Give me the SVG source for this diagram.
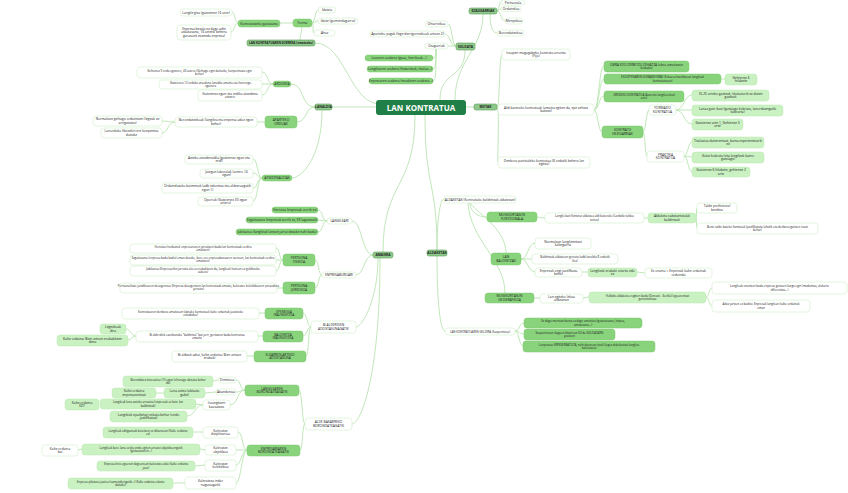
<svg xmlns="http://www.w3.org/2000/svg" width="848" height="493" viewBox="0 0 848 493">
<style>
text{font-family:"Open Sans","Liberation Sans",sans-serif;font-size:3.3px;fill:#222;text-anchor:middle}
.s text{font-size:2.9px}
.l rect{fill:#fff;stroke:#d2efcb;stroke-width:0.6}
.m rect{fill:#88d37b;stroke:#7cc86f;stroke-width:0.5}
.g rect{fill:#c9f1c1;stroke:#bfe9b6;stroke-width:0.5}
.b rect{fill:#8dc98a;stroke:#5f9d5c;stroke-width:0.6}
.b text{font-weight:bold}
#edges path{fill:none;stroke:#b9e4b1;stroke-width:0.9}
</style>
<rect width="848" height="493" fill="#fff"/>
<g id="edges">
<path d="M380 104 C350 104 345 43 315 43"/>
<path d="M376 107 L332 107"/>
<path d="M440 100 C440 70 465 80 465 50"/>
<path d="M455 100 C455 60 483 50 483 14"/>
<path d="M466 107 L474 107"/>
<path d="M415 115 C415 190 383 180 383 252"/>
<path d="M425 115 C425 190 437 180 437 250"/>
<path d="M300 40 C300 33 302 33 302 27"/>
<path d="M293 23 L280 23"/>
<path d="M312 23 C315 23 315 10 318 10"/><path d="M312 23 C315 23 315 21 318 21"/><path d="M312 23 C314 23 312 33 314 33"/>
<path d="M238 23 C235 23 235 12 232 12"/><path d="M238 23 C235 23 234 32 231 32"/>
<path d="M315 107 C300 107 305 84 291 84"/><path d="M315 107 C305 107 307 122 297 122"/><path d="M322 110 C322 160 300 178 292 178"/>
<path d="M273 84 C267 84 268 72 262 72"/><path d="M273 84 L262 84"/><path d="M273 84 C267 84 268 95 262 95"/>
<path d="M265 122 L257 122"/>
<path d="M175 122 C168 122 168 121 162 121"/><path d="M175 122 C168 122 168 133 162 133"/>
<path d="M262 178 C257 178 258 159 253 159"/><path d="M262 178 C257 178 258 173 253 173"/><path d="M262 178 C257 178 258 188 253 188"/><path d="M262 178 C257 178 258 201 253 201"/>
<path d="M456 46 C452 46 452 24 448 24"/><path d="M456 46 C450 46 450 34 445 34"/><path d="M456 46 L448 46"/>
<path d="M436 49 C436 55 436 58 433 58"/><path d="M436 49 C436 60 436 69 433 69"/><path d="M436 49 C436 70 436 81 433 81"/>
<path d="M497 11 C499 11 499 2 501 2"/><path d="M497 11 C499 11 499 9 501 9"/><path d="M497 11 C501 11 501 21 505 21"/><path d="M490 14 C490 25 492 33 497 33"/>
<path d="M497 107 C500 107 499 55 502 55"/><path d="M497 107 C498 107 497 110 498 110"/><path d="M497 107 C500 107 497 162 498 162"/>
<path d="M594 110 C599 110 599 66 604 66"/><path d="M594 110 C599 110 599 79 604 79"/><path d="M594 110 C599 110 599 96 604 96"/><path d="M594 110 C598 110 598 132 602 132"/>
<path d="M721 79 L725 79"/>
<path d="M643 132 C646 132 646 110 649 110"/><path d="M643 132 C645 132 645 156 647 156"/>
<path d="M676 110 C684 110 684 95 692 95"/><path d="M676 110 L692 110"/><path d="M676 110 C684 110 684 124 692 124"/>
<path d="M684 156 C688 156 688 142 692 142"/><path d="M684 156 L692 157"/><path d="M684 156 C688 156 688 172 692 172"/>
<path d="M373 255 C362 255 362 221 352 221"/><path d="M373 255 C364 255 364 275 356 275"/><path d="M378 258 C378 300 362 327 356 327"/><path d="M380 258 C380 380 360 424 352 424"/>
<path d="M327 221 C322 221 323 210 318 210"/><path d="M327 221 L318 220"/><path d="M327 221 C322 221 323 232 318 232"/>
<path d="M322 275 C318 275 319 260 315 260"/><path d="M322 275 C318 275 319 288 315 288"/>
<path d="M283 260 C279 260 280 248 276 248"/><path d="M283 260 L276 260"/><path d="M283 260 C279 260 280 271 276 271"/>
<path d="M283 288 L277 288"/>
<path d="M311 327 C307 327 307 313 303 313"/><path d="M311 327 C307 327 307 336 303 336"/><path d="M311 327 C308 327 309 356 306 356"/>
<path d="M265 313 L259 313"/><path d="M263 336 L258 336"/><path d="M254 356 L247 356"/>
<path d="M136 336 C131 336 131 329 126 329"/><path d="M136 336 C132 336 132 340 128 340"/>
<path d="M305 424 C302 424 302 390 299 390"/><path d="M305 424 C302 424 303 450 300 450"/>
<path d="M245 390 C240 390 241 380 236 380"/><path d="M245 390 C240 390 241 392 236 392"/><path d="M245 390 C237 390 238 405 230 405"/>
<path d="M218 380 L213 381"/><path d="M216 392 L205 393"/><path d="M164 393 L156 393"/>
<path d="M203 405 L196 404"/><path d="M203 405 C195 405 195 416 187 416"/>
<path d="M247 450 C242 450 243 432 238 432"/><path d="M247 450 L236 450"/><path d="M247 450 C242 450 241 465 236 465"/><path d="M247 450 C242 450 241 483 236 483"/>
<path d="M203 432 L193 432"/><path d="M205 450 L200 449"/><path d="M82 449 L78 450"/><path d="M205 465 L195 466"/><path d="M185 483 L173 483"/>
<path d="M437 250 C437 220 440 199 444 199"/><path d="M437 256 C437 300 440 331 445 331"/>
<path d="M470 203 C470 212 478 217 487 217"/><path d="M470 203 C480 215 506 230 506 253"/><path d="M468 203 C470 240 505 260 505 293"/>
<path d="M537 217 L545 218"/><path d="M644 218 L648 218"/><path d="M696 218 C697 218 696 208 697 208"/><path d="M696 218 C697 218 696 228 697 228"/>
<path d="M521 259 C528 259 528 243 535 243"/><path d="M521 259 L532 259"/><path d="M521 259 C528 259 528 272 535 272"/>
<path d="M582 272 L588 272"/><path d="M637 272 L645 273"/>
<path d="M534 298 L540 298"/><path d="M583 298 L589 297"/><path d="M706 297 C709 297 709 288 712 288"/><path d="M706 297 C709 297 709 306 712 306"/>
<path d="M515 331 C520 331 519 323 524 323"/><path d="M515 331 C520 331 519 334 524 334"/><path d="M515 331 C519 331 519 346 523 346"/>
</g>
<g id="central"><rect x="376" y="100" width="90" height="15" rx="3" fill="#1f7f47"/><text x="421" y="110.5" style="font-size:8px;font-weight:bold;fill:#fff">LAN KONTRATUA</text></g>
<g id="sorrera" class="b"><rect x="247" y="40" width="68" height="6" rx="2"/><text x="281" y="44" style="font-size:3px">LAN KONTRATUAREN SORRERA (ematzeko)</text></g>
<g id="kontratatzeko" class="m"><rect x="238" y="20" width="42" height="7" rx="3"/><text x="259" y="24.5">Kontratatzeko gaitasuna</text></g>
<g id="forma" class="m"><rect x="293" y="19" width="19" height="8" rx="3"/><text x="302.5" y="24.2">Forma</text></g>
<g id="idatzia" class="l"><rect x="318" y="7" width="18" height="6" rx="3"/><text x="327" y="11.2">Idatzia</text></g>
<g id="idatzi" class="l"><rect x="318" y="18" width="40" height="6" rx="3"/><text x="338" y="22.2">Idatzi (gomendagarria)</text></g>
<g id="ahoz" class="l"><rect x="314" y="30" width="21" height="6" rx="3"/><text x="324.5" y="34.2">Ahoz</text></g>
<g id="langilegisa" class="l"><rect x="180" y="9" width="52" height="7" rx="3"/><text x="206" y="13.5">Langile gisa (gutxienez 16 urte)</text></g>
<g id="enpresabezala" class="l"><rect x="177" y="25" width="54" height="15" rx="3"/><text x="204" y="29.5">Enpresa bezala ez dago adin<tspan x="204" dy="3.6">askatasuna, 18 urtetik behera</tspan><tspan x="204" dy="3.6">gurasoek eszenda enpresa)</tspan></text></g>
<g id="lanaldia" class="b"><rect x="315" y="104" width="17" height="6" rx="2"/><text x="323.5" y="108.2">LANALDIA</text></g>
<g id="ardunta" class="m"><rect x="273" y="81" width="18" height="6" rx="3"/><text x="282" y="85.2">ARDUNTA</text></g>
<g id="ard1" class="l s"><rect x="137" y="67" width="125" height="11" rx="3"/><text x="199.5" y="71.5">Gehienez 9 ordu egunero, 40 astero (Gehiago egin daitezke, konpentsatu egin<tspan x="199.5" dy="3.6">behar)</tspan></text></g>
<g id="ard2" class="l s"><rect x="159" y="80" width="103" height="9" rx="3"/><text x="210.5" y="83.8">Gutxienez 12 orduko atsedena lanaldia amaitu eta hurrengo<tspan x="210.5" dy="3.6">egunera</tspan></text></g>
<g id="ard3" class="l"><rect x="198" y="90" width="64" height="11" rx="3"/><text x="230" y="94.5">Gutxienez egun eta erdiko atsedena<tspan x="230" dy="3.6">astero</tspan></text></g>
<g id="aparteko" class="m"><rect x="265" y="116" width="32" height="12" rx="3"/><text x="281" y="121">APARTEKO<tspan x="281" dy="3.6">ORDUAK</tspan></text></g>
<g id="borondatezkoak" class="l"><rect x="175" y="117" width="82" height="10" rx="3"/><text x="216" y="121">Borondatezkoak (langilea eta enpresa adoz egon<tspan x="216" dy="3.6">behar)</tspan></text></g>
<g id="normalean" class="l"><rect x="93" y="116" width="69" height="10" rx="3"/><text x="127.5" y="120">Normalean gehiago ordaintzen (legeak ez<tspan x="127.5" dy="3.6">arrigutatzu)</tspan></text></g>
<g id="lanorduko" class="l"><rect x="101" y="128" width="61" height="10" rx="3"/><text x="131.5" y="132">Lanorduko libreekin ere konpentsa<tspan x="131.5" dy="3.6">daitake</tspan></text></g>
<g id="atseden" class="m"><rect x="262" y="175" width="30" height="6" rx="3"/><text x="277" y="179.2">ATSEDENALDIAK</text></g>
<g id="ats1" class="l"><rect x="185" y="155" width="68" height="9" rx="3"/><text x="219" y="158.8">Asteko atsedenaldia (gutxienez egun eta<tspan x="219" dy="3.6">erdi)</tspan></text></g>
<g id="ats2" class="l"><rect x="200" y="169" width="53" height="9" rx="3"/><text x="226.5" y="172.8">Jaiegun laboralak (urtero 14<tspan x="226.5" dy="3.6">egun)</tspan></text></g>
<g id="ats3" class="l"><rect x="162" y="183" width="91" height="10" rx="3"/><text x="207.5" y="187.2">Ordaindutako baimenak (adb ezkontza eta aldeeraagatik<tspan x="207.5" dy="3.6">egun 1)</tspan></text></g>
<g id="ats4" class="l"><rect x="198" y="197" width="55" height="9" rx="3"/><text x="225.5" y="200.8">Oporrak (Gutxienez 30 egun<tspan x="225.5" dy="3.6">urtero)</tspan></text></g>
<g id="soldata" class="b"><rect x="456" y="43" width="19" height="7" rx="2"/><text x="465.5" y="47.7">SOLDATA</text></g>
<g id="ohiarrizkoa" class="l"><rect x="425" y="21" width="23" height="6" rx="3"/><text x="436.5" y="25.2">Ohiarrizkoa</text></g>
<g id="apartekopagak" class="l"><rect x="370" y="31" width="75" height="6" rx="3"/><text x="407.5" y="35.2">Aparteko pagak (lege derrigorrezkoak urtean 2)</text></g>
<g id="osagarriak" class="l"><rect x="425" y="43" width="23" height="6" rx="3"/><text x="436.5" y="47.2">Osagarriak</text></g>
<g id="os1" class="m"><rect x="365" y="55" width="68" height="6" rx="3"/><text x="399" y="59.2">Lanaren arabera (gaua, herrikoak...)</text></g>
<g id="os2" class="m"><rect x="367" y="66" width="66" height="6" rx="3"/><text x="400" y="70.2">Langilearen arabera (hiztuntzak, titulua...)</text></g>
<g id="os3" class="m"><rect x="369" y="78" width="64" height="6" rx="3"/><text x="401" y="82.2">Enpresaren arabera (mozkinen arabera...)</text></g>
<g id="ezaugarriak" class="b"><rect x="469" y="8" width="28" height="6" rx="2"/><text x="483" y="12.2">EZAUGARRIAK</text></g>
<g id="pertsonala" class="l"><rect x="501" y="0" width="24" height="5" rx="2.5"/><text x="513" y="3.7">Pertsonala</text></g>
<g id="ordaindua" class="l"><rect x="501" y="6.5" width="20" height="5" rx="2.5"/><text x="511" y="10.2">Ordaindua</text></g>
<g id="menpekoa" class="l"><rect x="505" y="18" width="18" height="6" rx="3"/><text x="514" y="22.2">Menpekoa</text></g>
<g id="borondatezkoa" class="l"><rect x="497" y="30" width="27" height="6" rx="3"/><text x="510.5" y="34.2">Borondatezkoa</text></g>
<g id="motak" class="b"><rect x="474" y="104" width="23" height="6" rx="2"/><text x="485.5" y="108.2">MOTAK</text></g>
<g id="iraupen" class="l"><rect x="502" y="49" width="68" height="11" rx="3"/><text x="536" y="53.5">Iraupen mugagabeko kontratu arrunta<tspan x="536" dy="3.6">(Fijo)</tspan></text></g>
<g id="aldibaterako" class="l"><rect x="498" y="104" width="96" height="11" rx="3"/><text x="546" y="108.5">Aldi baterako kontratuak (amaitu egiten da, epe zehatz<tspan x="546" dy="3.6">batean)</tspan></text></g>
<g id="denbora" class="l"><rect x="498" y="157" width="92" height="11" rx="3"/><text x="544" y="161.5">Denbora partzialeko kontratua (8 ordutik behera lan<tspan x="544" dy="3.6">egitea)</tspan></text></g>
<g id="obra" class="m"><rect x="604" y="61" width="85" height="11" rx="3"/><text x="646.5" y="65.5">OBRA EDO ZERBITZU ZEHATZA (obra amaitzean<tspan x="646.5" dy="3.6">bukatu)</tspan></text></g>
<g id="ekoizpen" class="m s"><rect x="604" y="74" width="117" height="10" rx="3"/><text x="662.5" y="78">EKOIZPENAREN GORABEHERAK (Eskaera handitzean langileak<tspan x="662.5" dy="3.6">kontratatzean)</tspan></text></g>
<g id="gehienez6" class="g"><rect x="725" y="74" width="32" height="11" rx="3"/><text x="741" y="78.5">Gehienez 6<tspan x="741" dy="3.6">hilabete</tspan></text></g>
<g id="ordezko" class="m s"><rect x="604" y="91" width="80" height="11" rx="3"/><text x="644" y="95.5">ORDEZKO KONTRATUA (Aurreko langilea itzuli<tspan x="644" dy="3.6">arte)</tspan></text></g>
<g id="hezigarriak" class="m"><rect x="602" y="126" width="41" height="12" rx="3"/><text x="622.5" y="131">KONTRATU<tspan x="622.5" dy="3.6">HEZIGARRIAK</tspan></text></g>
<g id="formazio" class="l"><rect x="649" y="105" width="27" height="10" rx="3"/><text x="662.5" y="109">FORMAZIO<tspan x="662.5" dy="3.6">KONTRATUA</tspan></text></g>
<g id="f1" class="g"><rect x="692" y="90" width="77" height="11" rx="3"/><text x="730.5" y="94.5">16-25 urteko gazteak, titulaziorik ez duten<tspan x="730.5" dy="3.6">gazteak</tspan></text></g>
<g id="f2" class="g"><rect x="692" y="105" width="91" height="11" rx="3"/><text x="737.5" y="109.5">Lanaz gain ikasi (gutxiago kobratu, lanorduengatik<tspan x="737.5" dy="3.6">kobrarta)</tspan></text></g>
<g id="f3" class="g"><rect x="692" y="119" width="51" height="11" rx="3"/><text x="717.5" y="123.5">Gutxienez urte 1, Gehienez 3<tspan x="717.5" dy="3.6">urte</tspan></text></g>
<g id="praktika" class="l"><rect x="647" y="151" width="37" height="11" rx="3"/><text x="665.5" y="155.5">PRAKTIKA<tspan x="665.5" dy="3.6">KONTRATUA</tspan></text></g>
<g id="p1" class="g"><rect x="692" y="137" width="72" height="11" rx="3"/><text x="728" y="141.5">Titulazioa dutenentzat, baina esperientziarik<tspan x="728" dy="3.6">ez</tspan></text></g>
<g id="p2" class="g"><rect x="692" y="152" width="72" height="11" rx="3"/><text x="728" y="156.5">Gutxi kobratu (eta langileak baino<tspan x="728" dy="3.6">gutxiago)</tspan></text></g>
<g id="p3" class="g"><rect x="692" y="167" width="58" height="10" rx="3"/><text x="721" y="171">Gutxienez 6 hilabete, gehienez 2<tspan x="721" dy="3.6">urte</tspan></text></g>
<g id="amaiera" class="b"><rect x="373" y="252" width="20" height="6" rx="2"/><text x="383" y="256.2">AMAIERA</text></g>
<g id="langileari" class="l"><rect x="327" y="218" width="25" height="6" rx="3"/><text x="339.5" y="222.2">LANGILEARI</text></g>
<g id="la1" class="m"><rect x="272" y="207" width="46" height="6" rx="3"/><text x="295" y="211.2">Heriotza (enpresak zorrik ez)</text></g>
<g id="la2" class="m"><rect x="246" y="217" width="72" height="6" rx="3"/><text x="282" y="221.2">Ezgaitasuna (enpresak zorrik ez, EE laguntzak)</text></g>
<g id="la3" class="m"><rect x="236" y="229" width="82" height="6" rx="3"/><text x="277" y="233.2">Jubilazioa (langileak lanean jarrai dezake nahi badu)</text></g>
<g id="enpresaburuari" class="l"><rect x="322" y="272" width="34" height="6" rx="3"/><text x="339" y="276.2">ENPRESABURUARI</text></g>
<g id="fisikoa" class="m"><rect x="283" y="254" width="32" height="12" rx="3"/><text x="299" y="259">PERTSONA<tspan x="299" dy="3.6">FISIKOA</tspan></text></g>
<g id="pf1" class="l s"><rect x="130" y="244" width="146" height="9" rx="3"/><text x="203" y="247.8">Heriotza (norbaitek enpresariaren jarraitzen badu lan kontratuak ez dira<tspan x="203" dy="3.4">amaitzen)</tspan></text></g>
<g id="pf2" class="l s"><rect x="130" y="255" width="146" height="10" rx="3"/><text x="203" y="259">Ezgaitasuna (enpresa bada badu) eman dezake, bere ere enpresaburuaren izenean, lan kontratuak ez dira<tspan x="203" dy="3.4">amaitzen)</tspan></text></g>
<g id="pf3" class="l s"><rect x="130" y="266" width="146" height="10" rx="3"/><text x="203" y="270">Jubilazioa (Enpresarikin jarraitu ala ez erabakitzen du, langileak haitean ez gelditzeko<tspan x="203" dy="3.4">aukera)</tspan></text></g>
<g id="juridikoa" class="m"><rect x="283" y="282" width="32" height="12" rx="3"/><text x="299" y="287">PERTSONA<tspan x="299" dy="3.6">JURIDIKOA</tspan></text></g>
<g id="pj1" class="l s"><rect x="120" y="283" width="157" height="10" rx="3"/><text x="198.5" y="287">Pertsonalitate juridikoaren desagertzea (Enpresa desagertzen lan kontratuak amaitu, kaleratze kolektiboaren prozedura<tspan x="198.5" dy="3.4">jarraitu)</tspan></text></g>
<g id="bialderdien" class="l"><rect x="311" y="321" width="45" height="12" rx="3"/><text x="333.5" y="326">BI ALDERDIEN<tspan x="333.5" dy="3.6">ADOSTASUNAGATIK</tspan></text></g>
<g id="epemuga" class="m"><rect x="265" y="308" width="38" height="11" rx="3"/><text x="284" y="312.5">EPEMUGA<tspan x="284" dy="3.6">IRAUNGITZEA</tspan></text></g>
<g id="ep1" class="l s"><rect x="122" y="308" width="137" height="11" rx="3"/><text x="190.5" y="312.5">Kontratuaren denbora amaitzean (obrako kontratuek kalte ordainak jasotzeko<tspan x="190.5" dy="3.6">eskubidea)</tspan></text></g>
<g id="baldintza" class="m"><rect x="263" y="331" width="40" height="11" rx="3"/><text x="283" y="335.5">BALDINTZA<tspan x="283" dy="3.6">IRAUNGITZEA</tspan></text></g>
<g id="ba1" class="l s"><rect x="136" y="331" width="122" height="11" rx="3"/><text x="197" y="335.5">Bi alderdiek ezarktutako "baldintza" bat jarri, gertatzen bada kontratua<tspan x="197" dy="3.6">amaitu</tspan></text></g>
<g id="legezkoak" class="g"><rect x="100" y="324" width="26" height="10" rx="3"/><text x="113" y="328">Legezkoak<tspan x="113" dy="3.6">dira</tspan></text></g>
<g id="kaltebien" class="g"><rect x="57" y="335" width="71" height="11" rx="3"/><text x="92.5" y="339.5">Kalte ordaina: Bien artean erabakitzen<tspan x="92.5" dy="3.6">dena</tspan></text></g>
<g id="elkarren" class="m"><rect x="254" y="351" width="52" height="11" rx="3"/><text x="280" y="355.5">ELKARREN ARTEKO<tspan x="280" dy="3.6">ADOSTASUNA</tspan></text></g>
<g id="el1" class="l"><rect x="172" y="351" width="75" height="11" rx="3"/><text x="209.5" y="355.5">Bi aldeak adoz, kalte ordaina: Bien artean<tspan x="209.5" dy="3.6">erabaki</tspan></text></g>
<g id="aldebakarreko" class="l"><rect x="305" y="418" width="47" height="12" rx="3"/><text x="328.5" y="423">ALDE BAKARREKO<tspan x="328.5" dy="3.6">BORONDATEAGATIK</tspan></text></g>
<g id="langilearen" class="m"><rect x="245" y="385" width="54" height="11" rx="3"/><text x="272" y="389.5">LANGILEAREN<tspan x="272" dy="3.6">BORONDATEAGATIK</tspan></text></g>
<g id="dimitzioa" class="l"><rect x="218" y="377" width="18" height="6" rx="3"/><text x="227" y="381.2">Dimitzioa</text></g>
<g id="dim1" class="g s"><rect x="123" y="376" width="90" height="11" rx="3"/><text x="168" y="380.5">Borondatez lana uztea (15 egun lehenago abisatu behar<tspan x="168" dy="3.6">da)</tspan></text></g>
<g id="abandonua" class="l"><rect x="216" y="389" width="20" height="6" rx="3"/><text x="226" y="393.2">Abandonua</text></g>
<g id="lanauztea" class="g"><rect x="164" y="388" width="41" height="10" rx="3"/><text x="184.5" y="392">Lana uztea (abisatu<tspan x="184.5" dy="3.6">gabe)</tspan></text></g>
<g id="kalteenp" class="g"><rect x="112" y="388" width="44" height="10" rx="3"/><text x="134" y="392">Kalte ordaina<tspan x="134" dy="3.6">enpresarentzat</tspan></text></g>
<g id="iraungitzen" class="l"><rect x="203" y="400" width="27" height="10" rx="3"/><text x="216.5" y="404">Iraungitzen<tspan x="216.5" dy="3.6">kausatzea</tspan></text></g>
<g id="arrazoia" class="g s"><rect x="100" y="399" width="96" height="10" rx="3"/><text x="148" y="403">Langileak lana uzteko arrazoia (enpresak ez bete lan<tspan x="148" dy="3.6">baldintzak)</tspan></text></g>
<g id="kalteez" class="g"><rect x="65" y="399" width="34" height="11" rx="3"/><text x="82" y="403.5">Kalte ordaina<tspan x="82" dy="3.6">EZ!!</tspan></text></g>
<g id="epaiketari" class="g"><rect x="110" y="411" width="77" height="11" rx="3"/><text x="148.5" y="415.5">Langileak epaiketari eskatu behar (ondo<tspan x="148.5" dy="3.6">justifikatuz)</tspan></text></g>
<g id="enpresariaren" class="m"><rect x="247" y="445" width="53" height="11" rx="3"/><text x="273.5" y="449.5">ENPRESARIAREN<tspan x="273.5" dy="3.6">BORONDATEAGATIK</tspan></text></g>
<g id="diziplinarioa" class="l"><rect x="203" y="427" width="35" height="11" rx="3"/><text x="220.5" y="431.5">Kaleratze<tspan x="220.5" dy="3.6">diziplinarioa</tspan></text></g>
<g id="diz1" class="g s"><rect x="103" y="427" width="90" height="11" rx="3"/><text x="148" y="431.5">Langileak obligazioak betetzen ez dituenean (Kalte ordaina<tspan x="148" dy="3.6">ez)</tspan></text></g>
<g id="objetiboa" class="l"><rect x="205" y="445" width="31" height="10" rx="3"/><text x="220.5" y="449">Kaleratze<tspan x="220.5" dy="3.6">objetiboa</tspan></text></g>
<g id="obj1" class="g s"><rect x="82" y="444" width="118" height="11" rx="3"/><text x="141" y="448.5">Langileak bere lana ez du ondo egiten arrazoi objetiboengatik<tspan x="141" dy="3.6">(gaitasunaren...)</tspan></text></g>
<g id="kaltebai" class="l"><rect x="42" y="445" width="36" height="11" rx="3"/><text x="60" y="449.5">Kalte ordaina<tspan x="60" dy="3.6">bai</tspan></text></g>
<g id="kolektiboa" class="l"><rect x="205" y="460" width="31" height="11" rx="3"/><text x="220.5" y="464.5">Kaleratze<tspan x="220.5" dy="3.6">kolektiboa</tspan></text></g>
<g id="kol1" class="g s"><rect x="97" y="461" width="98" height="10" rx="3"/><text x="146" y="465">Enpresa krisi egoeran dagoenean kaleratze asko (kalte ordaina<tspan x="146" dy="3.6">jaso)</tspan></text></g>
<g id="indar" class="l"><rect x="185" y="477" width="51" height="12" rx="3"/><text x="210.5" y="482">Kaleratzea indar<tspan x="210.5" dy="3.6">nagusiagatik</tspan></text></g>
<g id="ind1" class="g s"><rect x="68" y="478" width="105" height="11" rx="3"/><text x="120.5" y="482.5">Enpresa pikutara joatea (sumendiengatik...) (Kalte ordaina eskatu<tspan x="120.5" dy="3.6">daitake)</tspan></text></g>
<g id="aldaketak" class="b"><rect x="427" y="250" width="20" height="6" rx="2"/><text x="437" y="254.2">ALDAKETAK</text></g>
<g id="aldaketakleaf" class="l"><rect x="444" y="196" width="72" height="7" rx="3"/><text x="480" y="200.5">ALDAKETAK (Kontratuko baldintzak aldatzean)</text></g>
<g id="mugfuntz" class="m"><rect x="487" y="212" width="50" height="10" rx="3"/><text x="512" y="216">MUGIKORTASUN<tspan x="512" dy="3.6">FUNTZIONALA</tspan></text></g>
<g id="mf1" class="l s"><rect x="545" y="213" width="99" height="10" rx="3"/><text x="594.5" y="217">Langile bati funtzioz aldatzea aldi baterako (Lanbide taldea<tspan x="594.5" dy="3.6">tartea)</tspan></text></g>
<g id="mf2" class="g"><rect x="648" y="213" width="48" height="10" rx="3"/><text x="672" y="217">Aldaketa substantzialak<tspan x="672" dy="3.6">baldintzak</tspan></text></g>
<g id="mf3" class="l"><rect x="697" y="203" width="40" height="10" rx="3"/><text x="717" y="207">Talde profesional<tspan x="717" dy="3.6">berdina</tspan></text></g>
<g id="mf4" class="l s"><rect x="697" y="223" width="121" height="11" rx="3"/><text x="757.5" y="227.5">Beste talde bateko funtzioak (justifikatuta (ahalik eta denbora gutxien iraun<tspan x="757.5" dy="3.6">behar)</tspan></text></g>
<g id="lanbald" class="m"><rect x="491" y="253" width="30" height="12" rx="3"/><text x="506" y="258">LAN<tspan x="506" dy="3.6">BALDINTZAK</tspan></text></g>
<g id="lb1" class="l"><rect x="535" y="238" width="56" height="11" rx="3"/><text x="563" y="242.5">Normalean langileentzat<tspan x="563" dy="3.6">kaltegarria</tspan></text></g>
<g id="lb2" class="l s"><rect x="532" y="254" width="86" height="10" rx="3"/><text x="575" y="258">Baldintzak aldatzean gertatu (adb lanaldia 8 ordutik<tspan x="575" dy="3.6">6ra)</tspan></text></g>
<g id="lb3" class="l"><rect x="535" y="268" width="47" height="9" rx="3"/><text x="558.5" y="271.8">Enpresak ongi justifikatu<tspan x="558.5" dy="3.6">behar</tspan></text></g>
<g id="lb4" class="g"><rect x="588" y="268" width="49" height="9" rx="3"/><text x="612.5" y="271.8">Langileak erabaki onartu edo<tspan x="612.5" dy="3.6">ez</tspan></text></g>
<g id="lb5" class="l"><rect x="645" y="268" width="67" height="10" rx="3"/><text x="678.5" y="272">Ez onartu = Enpresak kalte ordainak<tspan x="678.5" dy="3.6">ordaindu</tspan></text></g>
<g id="muggeo" class="m"><rect x="485" y="293" width="49" height="10" rx="3"/><text x="509.5" y="297">MUGIKORTASUN<tspan x="509.5" dy="3.6">GEOGRAFIKOA</tspan></text></g>
<g id="mg1" class="l"><rect x="540" y="294" width="43" height="9" rx="3"/><text x="561.5" y="297.8">Lan egiteko lekua<tspan x="561.5" dy="3.6">aldatzean</tspan></text></g>
<g id="mg2" class="g s"><rect x="589" y="292" width="117" height="11" rx="3"/><text x="647.5" y="296.5">Helbide aldaketa eragiten badu (Donosti - Sevilla) legearentzat<tspan x="647.5" dy="3.6">garrantzitsua</tspan></text></g>
<g id="mg3" class="l s"><rect x="712" y="282" width="135" height="12" rx="3"/><text x="779.5" y="287">Langileak onartzen badu enpresa gastuen kargu egin (mudantza, alokairu<tspan x="779.5" dy="3.6">diferentzia...)</tspan></text></g>
<g id="mg4" class="l s"><rect x="712" y="300" width="98" height="12" rx="3"/><text x="761" y="305">Adoz jartzen ez badira: Enpresak langileari kalte ordainak<tspan x="761" dy="3.6">eman</tspan></text></g>
<g id="geldira" class="l s"><rect x="445" y="328" width="70" height="7" rx="3"/><text x="480" y="332.5">LAN KONTRATUAREN GELDIRA (Suspentsioa)</text></g>
<g id="ge1" class="m s"><rect x="524" y="318" width="118" height="10" rx="3"/><text x="583" y="322">Ez dago martxan baina ez dago amaituta (gaixotasuna, kripua,<tspan x="583" dy="3.6">amatasuna...)</tspan></text></g>
<g id="ge2" class="m s"><rect x="524" y="329" width="91" height="11" rx="3"/><text x="569.5" y="333.5">Suspentsioan dagoen bitartean EZ da SOLDATARIK<tspan x="569.5" dy="3.6">jasotzen</tspan></text></g>
<g id="ge3" class="m s"><rect x="523" y="341" width="132" height="11" rx="3"/><text x="589" y="345.5">Lanpostua ERRESERBATUTA, nahi duenean itzuli (legez debekatuta langilea<tspan x="589" dy="3.6">kaleratzea)</tspan></text></g>
</svg>
